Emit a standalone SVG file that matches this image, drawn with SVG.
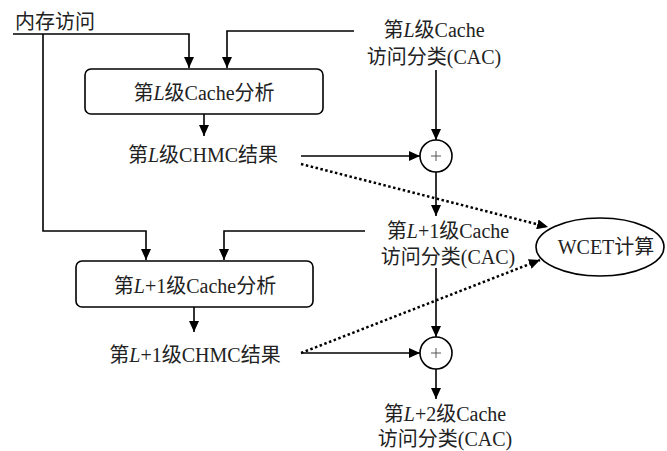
<svg xmlns="http://www.w3.org/2000/svg" width="667" height="451" viewBox="0 0 667 451">
<style>
text{font-family:"Liberation Serif","Noto Sans CJK SC",serif;font-size:20px;fill:#222}
.c{text-anchor:middle}
.i{font-style:italic}
.ln{fill:none;stroke:#000;stroke-width:1.6}
.dot{fill:none;stroke:#000;stroke-width:2.5;stroke-dasharray:2.5 2.5}
.box{fill:#fff;stroke:#000;stroke-width:1.6}
</style>
<defs>
<marker id="ah" markerUnits="userSpaceOnUse" markerWidth="12" markerHeight="10" refX="11" refY="5" orient="auto">
<path d="M0,0 L11,5 L0,10 Z" fill="#000"/>
</marker>
</defs>
<g id="connectors">
<path class="ln" d="M13,34 H189 V68" marker-end="url(#ah)"/>
<path class="ln" d="M43,34 V231 H146 V260" marker-end="url(#ah)"/>
<path class="ln" d="M354,31 H227 V68" marker-end="url(#ah)"/>
<path class="ln" d="M204,114 V136" marker-end="url(#ah)"/>
<path class="ln" d="M436,70 V140" marker-end="url(#ah)"/>
<path class="ln" d="M301,156 H420" marker-end="url(#ah)"/>
<path class="ln" d="M436,172 V216" marker-end="url(#ah)"/>
<path class="ln" d="M436,268 V337" marker-end="url(#ah)"/>
<path class="ln" d="M301,353 H420" marker-end="url(#ah)"/>
<path class="ln" d="M436,369 V399" marker-end="url(#ah)"/>
<path class="ln" d="M365,231 H224 V260" marker-end="url(#ah)"/>
<path class="ln" d="M194,307 V332" marker-end="url(#ah)"/>
<path class="dot" d="M301,164 L548,227" marker-end="url(#ah)"/>
<path class="dot" d="M301,353 L540,260" marker-end="url(#ah)"/>
</g>
<g id="mem"><text x="15" y="29">内存访问</text></g>
<g id="box1">
<rect class="box" x="85" y="69" width="238" height="45" rx="6"/>
<text class="c" x="204" y="100">第<tspan class="i">L</tspan>级Cache分析</text>
</g>
<g id="chmc1"><text class="c" x="203" y="162">第<tspan class="i">L</tspan>级CHMC结果</text></g>
<g id="cac1">
<text class="c" x="434" y="37">第<tspan class="i">L</tspan>级Cache</text>
<text class="c" x="434" y="64">访问分类(CAC)</text>
</g>
<g id="plus1">
<circle cx="436" cy="156" r="16" fill="#fff" stroke="#000" stroke-width="1.6"/>
<path d="M431,156 H441 M436,151 V161" stroke="#555" stroke-width="1"/>
</g>
<g id="cac2">
<text class="c" x="448" y="238">第<tspan class="i">L</tspan>+1级Cache</text>
<text class="c" x="448" y="264">访问分类(CAC)</text>
</g>
<g id="box2">
<rect class="box" x="76" y="261" width="237" height="46" rx="6"/>
<text class="c" x="195" y="293">第<tspan class="i">L</tspan>+1级Cache分析</text>
</g>
<g id="chmc2"><text class="c" x="195" y="362">第<tspan class="i">L</tspan>+1级CHMC结果</text></g>
<g id="plus2">
<circle cx="436" cy="353" r="16" fill="#fff" stroke="#000" stroke-width="1.6"/>
<path d="M431,353 H441 M436,348 V358" stroke="#555" stroke-width="1"/>
</g>
<g id="cac3">
<text class="c" x="445" y="421">第<tspan class="i">L</tspan>+2级Cache</text>
<text class="c" x="445" y="446">访问分类(CAC)</text>
</g>
<g id="wcet">
<ellipse cx="600" cy="247" rx="64" ry="29" fill="#fff" stroke="#000" stroke-width="1.6"/>
<text class="c" x="606" y="254">WCET计算</text>
</g>
</svg>
